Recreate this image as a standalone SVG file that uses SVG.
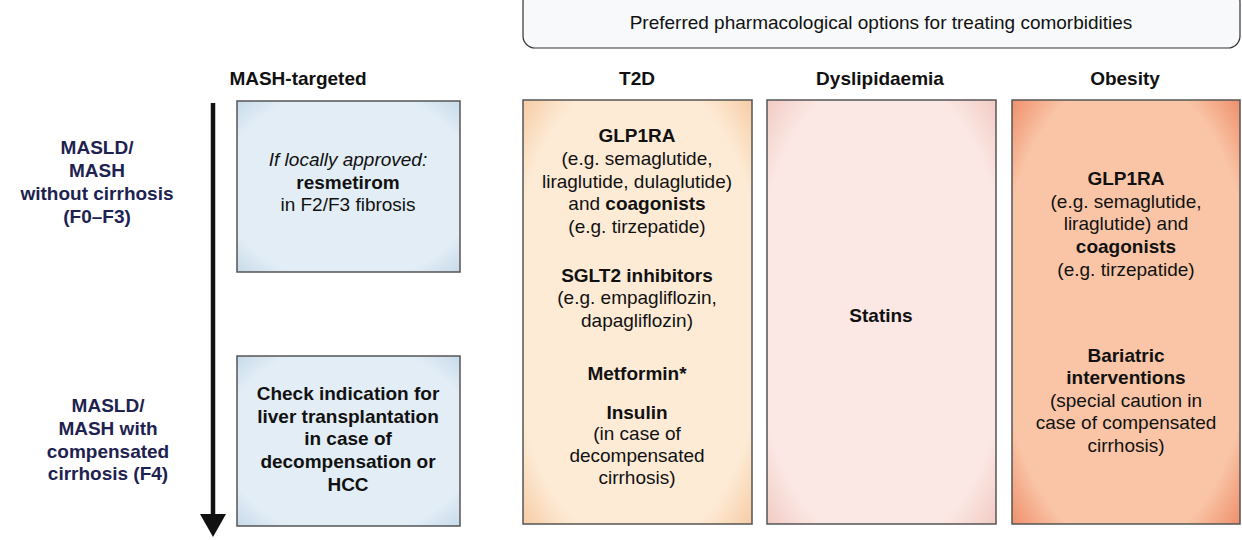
<svg xmlns="http://www.w3.org/2000/svg" width="1242" height="540" viewBox="0 0 1242 540">
<style>
text{font-family:"Liberation Sans",Arial,sans-serif;font-size:19px;fill:#111;text-anchor:middle}
.b{font-weight:bold}
.h{font-weight:bold}
.r{font-weight:bold;fill:#1e2250}
.i{font-style:italic}
.box{stroke:#555;stroke-width:1.5}
</style>
<defs>
<radialGradient id="gb" cx="50%" cy="50%" r="72%"><stop offset="0.78" stop-color="#e2edf6"/><stop offset="1" stop-color="#c4d8e8"/></radialGradient>
<radialGradient id="gt" cx="50%" cy="50%" r="72%"><stop offset="0.78" stop-color="#fdebd6"/><stop offset="1" stop-color="#f6c9a0"/></radialGradient>
<radialGradient id="gd" cx="50%" cy="50%" r="72%"><stop offset="0.78" stop-color="#fbe8e4"/><stop offset="1" stop-color="#f1c8c0"/></radialGradient>
<radialGradient id="go" cx="50%" cy="50%" r="72%"><stop offset="0.78" stop-color="#f9c5a6"/><stop offset="1" stop-color="#ee8a66"/></radialGradient>
</defs>
<g id="header">
<rect x="523" y="-10" width="717" height="58" rx="12" fill="#f7f9fa" stroke="#333" stroke-width="1.2"/>
<text x="881" y="29">Preferred pharmacological options for treating comorbidities</text>
</g>
<g id="col-headers">
<text class="h" x="298" y="85">MASH-targeted</text>
<text class="h" x="637" y="85">T2D</text>
<text class="h" x="880" y="85">Dyslipidaemia</text>
<text class="h" x="1125" y="85">Obesity</text>
</g>
<g id="rows">
<text class="r" x="97" y="154">MASLD/</text>
<text class="r" x="97" y="177">MASH</text>
<text class="r" x="97" y="200">without cirrhosis</text>
<text class="r" x="97" y="223">(F0–F3)</text>
<text class="r" x="108" y="412">MASLD/</text>
<text class="r" x="108" y="435">MASH with</text>
<text class="r" x="108" y="458">compensated</text>
<text class="r" x="108" y="480">cirrhosis (F4)</text>
</g>
<g id="connectors">
<line x1="213" y1="103" x2="213" y2="516" stroke="#111" stroke-width="4.5"/>
<path d="M200,514 L226,514 L213,537 z" fill="#111"/>
</g>
<g id="mash1">
<rect class="box" x="237" y="101" width="223" height="171" fill="url(#gb)"/>
<text class="i" x="348" y="166">If locally approved:</text>
<text class="b" x="348" y="189">resmetirom</text>
<text x="348" y="211">in F2/F3 fibrosis</text>
</g>
<g id="mash2">
<rect class="box" x="237" y="356" width="223" height="170" fill="url(#gb)"/>
<text class="b" x="348" y="400">Check indication for</text>
<text class="b" x="348" y="423">liver transplantation</text>
<text class="b" x="348" y="445">in case of</text>
<text class="b" x="348" y="468">decompensation or</text>
<text class="b" x="348" y="491">HCC</text>
</g>
<g id="t2d">
<rect class="box" x="523" y="100" width="229" height="424" fill="url(#gt)"/>
<text class="b" x="637" y="142">GLP1RA</text>
<text x="637" y="165">(e.g. semaglutide,</text>
<text x="637" y="188">liraglutide, dulaglutide)</text>
<text x="637" y="210">and <tspan class="b">coagonists</tspan></text>
<text x="637" y="233">(e.g. tirzepatide)</text>
<text class="b" x="637" y="282">SGLT2 inhibitors</text>
<text x="637" y="304">(e.g. empagliflozin,</text>
<text x="637" y="327">dapagliflozin)</text>
<text class="b" x="637" y="380">Metformin*</text>
<text class="b" x="637" y="419">Insulin</text>
<text x="637" y="440">(in case of</text>
<text x="637" y="462">decompensated</text>
<text x="637" y="484">cirrhosis)</text>
</g>
<g id="dyslipidaemia">
<rect class="box" x="767" y="100" width="229" height="424" fill="url(#gd)"/>
<text class="b" x="881" y="322">Statins</text>
</g>
<g id="obesity">
<rect class="box" x="1012" y="100" width="228" height="424" fill="url(#go)"/>
<text class="b" x="1126" y="185">GLP1RA</text>
<text x="1126" y="208">(e.g. semaglutide,</text>
<text x="1126" y="230">liraglutide) and</text>
<text class="b" x="1126" y="253">coagonists</text>
<text x="1126" y="276">(e.g. tirzepatide)</text>
<text class="b" x="1126" y="362">Bariatric</text>
<text class="b" x="1126" y="384">interventions</text>
<text x="1126" y="407">(special caution in</text>
<text x="1126" y="429">case of compensated</text>
<text x="1126" y="452">cirrhosis)</text>
</g>
</svg>
